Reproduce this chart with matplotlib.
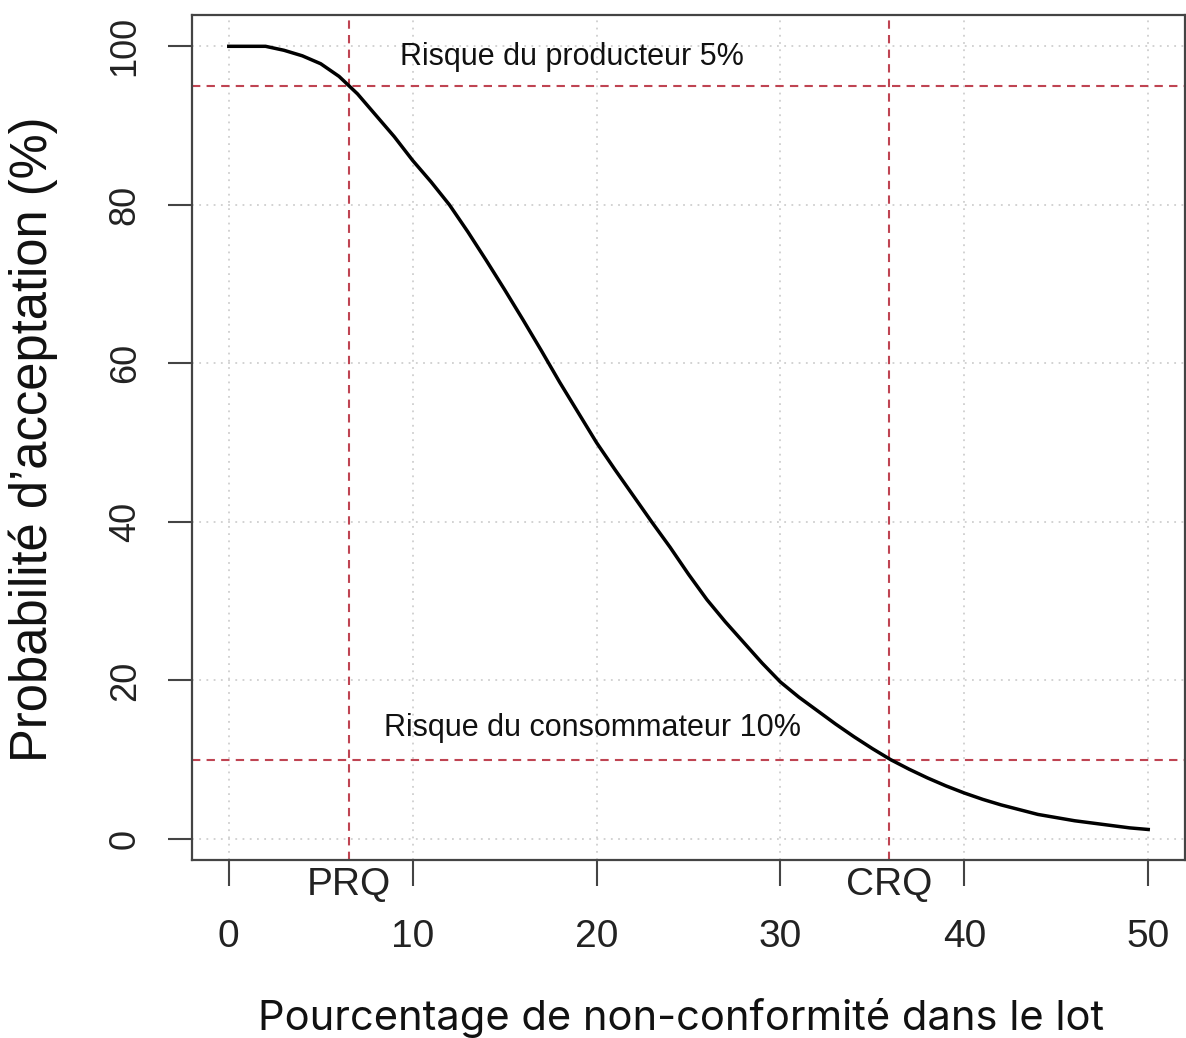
import matplotlib
matplotlib.use("Agg")
import matplotlib.pyplot as plt

# courbe d'efficacité
pct_nc = list(range(0, 51))
prob_acc = [100, 100, 100, 99.5, 98.8, 97.8, 96.2, 94.0, 91.3, 88.6,
            85.6, 82.9, 80.0, 76.6, 73.0, 69.3, 65.5, 61.6, 57.6, 53.8,
            50.0, 46.6, 43.3, 40.0, 36.8, 33.4, 30.2, 27.4, 24.8, 22.2,
            19.8, 17.9, 16.2, 14.5, 12.9, 11.4, 10.0, 8.8, 7.7, 6.7,
            5.8, 5.0, 4.3, 3.7, 3.1, 2.7, 2.3, 2.0, 1.7, 1.4, 1.2]

prq, crq = 6.55, 35.9
risk_prod, risk_cons = 95, 10
x_ticks = [0, 10, 20, 30, 40, 50]
y_ticks = [0, 20, 40, 60, 80, 100]

red = '#bf4452'
axis_font = 'Liberation Sans'

fig = plt.figure(figsize=(11.86, 10.38), dpi=100)
ax = fig.add_axes([192/1186, 1 - 860/1038, (1185-192)/1186, (860-15)/1038])

ax.grid(True, color='#cfcfcf', linestyle=(0, (1, 3)), linewidth=1.3)
ax.set_axisbelow(True)

ax.plot(pct_nc, prob_acc, color='black', linewidth=2.5, zorder=3)

# lignes de risque
for yy in (risk_prod, risk_cons):
    ax.axhline(yy, color=red, linestyle=(0, (4, 3)), linewidth=1.5, zorder=2)
for xx in (prq, crq):
    ax.axvline(xx, color=red, linestyle=(0, (4, 3)), linewidth=1.5, zorder=2)

ax.text(9.3, 98.6, 'Risque du producteur 5%', fontsize=22, family=axis_font,
        va='center', ha='left', color='#111111')
ax.text(8.45, 14.0, 'Risque du consommateur 10%', fontsize=22, family=axis_font,
        va='center', ha='left', color='#111111')

ax.set_xlim(-2, 52)
ax.set_ylim(-2.65, 103.95)

ax.set_xticks(x_ticks)
ax.set_yticks(y_ticks)
ax.tick_params(axis='x', length=18.5, width=1.5, color='#444444', pad=24, labelsize=28)
ax.tick_params(axis='y', length=17.5, width=1.5, color='#444444', pad=18, labelsize=26,
               labelrotation=90)
for lab in ax.get_xticklabels() + ax.get_yticklabels():
    lab.set_family(axis_font)
    lab.set_color('#222222')
for lab in ax.get_yticklabels():
    lab.set_va('center')

for xx, name in ((prq, 'PRQ'), (crq, 'CRQ')):
    ax.annotate(name, xy=(xx, 0), xycoords=('data', 'axes fraction'),
                xytext=(0, -18), textcoords='offset points',
                ha='center', va='center', fontsize=28, family=axis_font,
                color='#222222', annotation_clip=False)

for sp in ax.spines.values():
    sp.set_color('#444444')
    sp.set_linewidth(1.6)

ax.set_ylabel("Probabilité d’acceptation (%)", fontsize=36.5, family=axis_font,
              color='#111111')
ax.yaxis.set_label_coords(-0.135, 0.498)
ax.set_xlabel('Pourcentage de non-conformité dans le lot', fontsize=30,
              family='Inter', color='#111111')
ax.xaxis.label.set_va('baseline')
ax.xaxis.set_label_coords(0.4925, -0.201)

fig.savefig('out.png', dpi=100, facecolor='white')
